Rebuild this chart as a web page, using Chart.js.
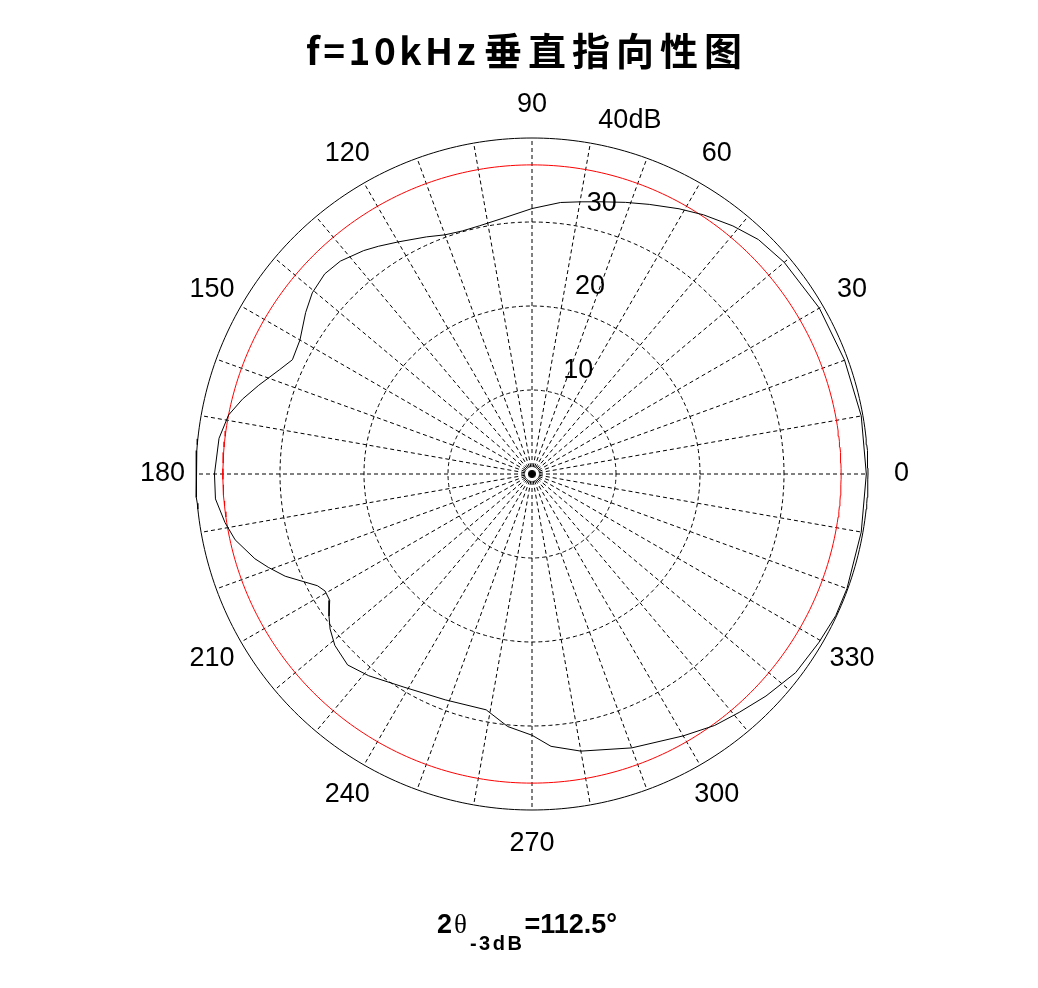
<!DOCTYPE html>
<html>
<head>
<meta charset="utf-8">
<title>f=10kHz垂直指向性图</title>
<script src="https://cdn.jsdelivr.net/npm/chart.js@4.4.1/dist/chart.umd.min.js"></script>
<style>
  html, body { margin: 0; padding: 0; background: #fff; }
  #wrap { width: 1038px; height: 988px; }
</style>
</head>
<body>
<div id="wrap"><canvas id="polar" width="1038" height="988"></canvas></div>
<script>
/* ── 측정 데이터: 각도(deg) / 레벨(dB) ───────────────────────────── */
const angleDeg = [0, 10, 20, 30, 40, 46, 51, 56.5, 61, 66.5, 71, 76, 80, 84, 90,
  96, 102, 106, 110, 114, 120, 124, 127, 132, 136, 140.5, 144.5, 150, 154.5, 157.5,
  162, 165.5, 169, 173.5, 180, 184.5, 189, 192.5, 197, 199.5, 202.5, 205, 207.5, 209.5,
  212, 215, 217.5, 221, 226, 231, 239, 249, 259, 264.5, 270, 274, 280, 290, 300, 306,
  311, 316.5, 323, 329.5, 335, 340, 350, 360];
const levelDb = [39.8, 39.8, 39.6, 39.5, 39.2, 38.8, 38.0, 37.0, 36.1, 35.0, 34.2, 33.4, 32.9, 32.5, 31.6,
  30.7, 30.2, 30.1, 30.3, 30.9, 31.9, 32.7, 33.3, 34.1, 34.3, 33.9, 33.1, 31.9, 31.6, 32.5,
  34.2, 35.6, 36.8, 37.5, 37.8, 37.8, 37.0, 36.2, 34.5, 33.3, 31.8, 30.2, 28.8, 28.3,
  28.4, 29.5, 30.3, 31.1, 31.6, 30.9, 29.6, 28.8, 28.6, 30.2, 31.1, 32.5, 33.5, 34.7, 36.0, 37.0,
  37.6, 38.4, 39.3, 39.6, 39.9, 39.9, 39.8, 39.8];

const ringDb = [10, 20, 30, 40];
const ringLabels = ['10', '20', '30', '40dB'];
const spokeDeg = [0, 10, 20, 30, 40, 50, 60, 70, 80, 90, 100, 110, 120, 130, 140, 150, 160, 170,
  180, 190, 200, 210, 220, 230, 240, 250, 260, 270, 280, 290, 300, 310, 320, 330, 340, 350];
const angleTickDeg = [0, 30, 60, 90, 120, 150, 180, 210, 240, 270, 300, 330];
const halfPowerDb = 36.8;          // -3dB 기준선 (빨간 원)
const titleLatin = 'f=10kHz';
const titleCjk = '垂直指向性图';
const beamWidthText = '=112.5°';

/* ── 배치 ─────────────────────────────────────────────────────────── */
const W = 1038, H = 988;
const CX = 532, CY = 474;          // 극좌표 중심 (px)
const PX_PER_DB = 8.4;
const R_MAX = ringDb[ringDb.length - 1];
const DASH = [4, 3];

const rad = d => d * Math.PI / 180;
const toXY = (deg, r) => ({ x: r * Math.cos(rad(deg)), y: r * Math.sin(rad(deg)) });

function circlePts(r) {
  const pts = [];
  for (let a = 0; a <= 360; a += 1) pts.push(toXY(a, r));
  return pts;
}

function lineSet(data, color, dash, order) {
  return {
    data,
    showLine: true,
    borderColor: color,
    borderWidth: 1,
    borderDash: dash || [],
    pointRadius: 0,
    pointHoverRadius: 0,
    fill: false,
    tension: 0,
    order,
  };
}

const datasets = [];
datasets.push(lineSet(angleDeg.map((a, i) => toXY(a, levelDb[i])), '#000000', null, 0));
datasets.push(lineSet(circlePts(halfPowerDb), '#ff0000', null, 1));
datasets.push(lineSet(circlePts(R_MAX), '#000000', null, 2));
ringDb.filter(r => r < R_MAX).forEach(r => {
  datasets.push(lineSet(circlePts(r), '#000000', DASH, 3));
});
spokeDeg.forEach(a => {
  datasets.push(lineSet([toXY(a, 0), toXY(a, R_MAX)], '#000000', DASH, 3));
});

/* ── 텍스트 (제목, 각도/링 라벨, 빔폭) ─────────────────────────────── */
const polarText = {
  id: 'polarText',
  afterDraw(chart) {
    const { ctx } = chart;
    const sx = chart.scales.x, sy = chart.scales.y;
    const px = (deg, r) => {
      const p = toXY(deg, r);
      return [sx.getPixelForValue(p.x), sy.getPixelForValue(p.y)];
    };
    ctx.save();
    ctx.fillStyle = '#000';

    // 각도 라벨
    ctx.font = '27px "Liberation Sans", Arial, sans-serif';
    ctx.textAlign = 'center';
    ctx.textBaseline = 'middle';
    angleTickDeg.forEach(a => {
      const [u, v] = px(a, R_MAX * 1.1);
      ctx.fillText(String(a), u, v);
    });

    // 링 라벨 (82° 방향)
    ctx.textAlign = 'left';
    ctx.textBaseline = 'alphabetic';
    ringDb.forEach((r, i) => {
      const [u, v] = px(82, r + 0.5);
      ctx.fillText(ringLabels[i], u + 19, v - 9);
    });

    // 제목: 라틴 부분 / 한자 부분 간격을 따로
    ctx.textBaseline = 'middle';
    ctx.font = 'bold 37px "Noto Sans CJK SC", sans-serif';
    ctx.letterSpacing = '3.5px';
    ctx.fillText(titleLatin, 306, 51);
    ctx.font = 'bold 38px "Noto Sans CJK SC", sans-serif';
    ctx.letterSpacing = '6px';
    ctx.fillText(titleCjk, 484, 51);
    ctx.letterSpacing = '0px';

    // 2θ-3dB=112.5°
    const mainFont = 'bold 27px "Liberation Sans", Arial, sans-serif';
    const thetaFont = '27px "Liberation Serif", serif';
    const subFont = 'bold 20px "Liberation Sans", Arial, sans-serif';
    ctx.textBaseline = 'alphabetic';
    ctx.font = mainFont;
    const w2 = ctx.measureText('2').width;
    const wEq = ctx.measureText(beamWidthText).width;
    ctx.font = thetaFont;
    const wTh = ctx.measureText('θ').width;
    ctx.font = subFont;
    ctx.letterSpacing = '2.5px';
    const wSub = ctx.measureText('-3dB').width;
    ctx.letterSpacing = '0px';
    let x0 = 527 - (w2 + 2 + wTh + 3 + wSub + wEq) / 2;
    ctx.font = mainFont;
    ctx.fillText('2', x0, 933);
    x0 += w2 + 2;
    ctx.font = thetaFont;
    ctx.fillText('θ', x0, 933);
    x0 += wTh + 3;
    ctx.font = subFont;
    ctx.letterSpacing = '2.5px';
    ctx.fillText('-3dB', x0, 950);
    ctx.letterSpacing = '0px';
    x0 += wSub;
    ctx.font = mainFont;
    ctx.fillText(beamWidthText, x0, 933);

    ctx.restore();
  },
};

new Chart(document.getElementById('polar'), {
  type: 'scatter',
  data: { datasets },
  options: {
    responsive: false,
    devicePixelRatio: 1,
    animation: false,
    layout: { padding: 0 },
    plugins: {
      legend: { display: false },
      tooltip: { enabled: false },
    },
    scales: {
      x: { type: 'linear', display: false, min: -CX / PX_PER_DB, max: (W - CX) / PX_PER_DB },
      y: { type: 'linear', display: false, min: -(H - CY) / PX_PER_DB, max: CY / PX_PER_DB },
    },
  },
  plugins: [polarText],
});
</script>
</body>
</html>
